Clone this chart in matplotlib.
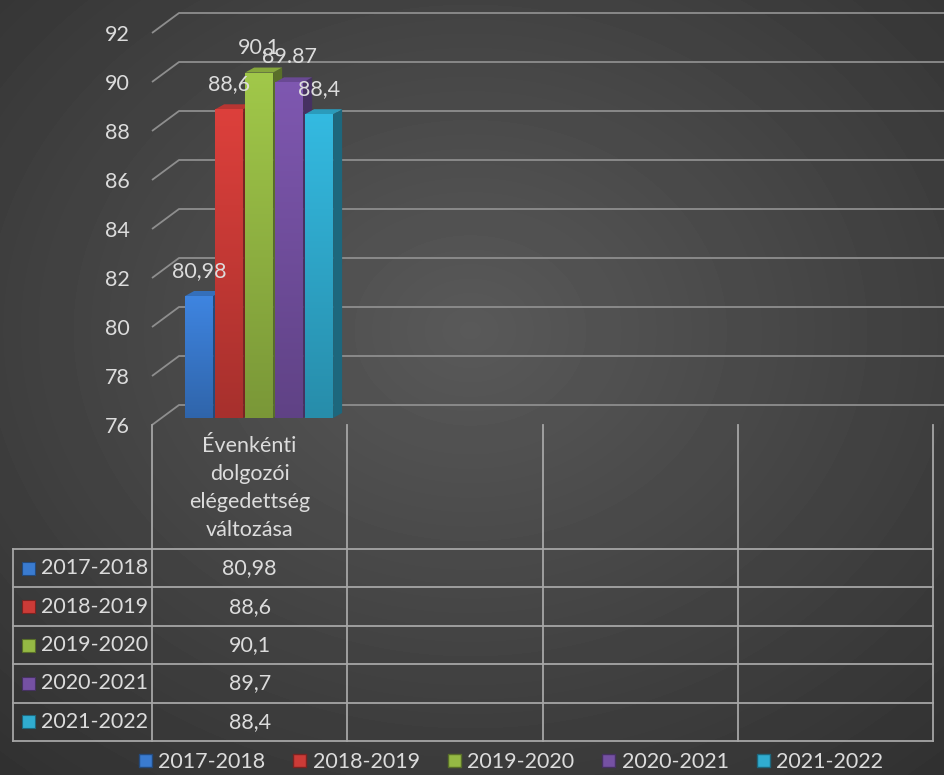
import numpy as np
import matplotlib.pyplot as plt
from matplotlib.patches import Polygon, Rectangle, Patch
from matplotlib.colors import LinearSegmentedColormap, to_rgb

plt.rcParams['font.family'] = ['Lato', 'DejaVu Sans']

# data
series = ['2017-2018', '2018-2019', '2019-2020', '2020-2021', '2021-2022']
values = [80.98, 88.6, 90.1, 89.7, 88.4]
bar_labels = ['80,98', '88,6', '90,1', '89.87', '88,4']
table_values = ['80,98', '88,6', '90,1', '89,7', '88,4']
categories = ['Évenkénti\ndolgozói\nelégedettség\nváltozása', '', '', '']
colors = ['#3a7bd0', '#cc3b37', '#95b944', '#7551a3', '#30acd0']
y_ticks = list(range(76, 93, 2))

TXT = '#dcdcdc'
GRID = '#8e8e8e'
W, H = 944, 775


def fx(px):
    return px / W


def fy(py):
    return 1 - py / H


def shade(c, f):
    r = np.array(to_rgb(c)) * f
    return tuple(np.clip(r, 0, 1))


fig = plt.figure(figsize=(W / 100, H / 100), dpi=100)

# background radial gradient
bg = fig.add_axes([0, 0, 1, 1])
bg.set_zorder(-5)
yy, xx = np.mgrid[0:H, 0:W]
d = np.hypot((xx - 470) / W, (yy - 330) / H)
bg.imshow(0.35 - 0.21 * d, cmap='gray', vmin=0, vmax=1,
          extent=[0, W, H, 0], aspect='auto')
bg.axis('off')

# main plot area (front plane of the 3D box)
left_px, right_px, bot_px, top_px = 152, 944, 425, 33
ax = fig.add_axes([fx(left_px), fy(bot_px), fx(right_px) - fx(left_px), fy(top_px) - fy(bot_px)])
sx = 195.25                       # px per category
sy = (bot_px - top_px) / 16.0     # px per unit
xmax = (right_px - left_px) / sx
ax.set_xlim(0, xmax)
ax.set_ylim(76, 92)
ax.patch.set_alpha(0)
for s in ax.spines.values():
    s.set_visible(False)
ax.set_xticks([])
ax.set_yticks(y_ticks)
ax.set_yticklabels([str(t) for t in y_ticks])
ax.tick_params(axis='y', length=0, pad=16, labelsize=15.5, labelcolor=TXT)

# side wall diagonals + back wall gridlines
bdx, bdy = 27 / sx, 20 / sy
for v in y_ticks:
    ax.plot([0, bdx, xmax], [v, v + bdy, v + bdy], color=GRID, lw=1.3,
            clip_on=False, zorder=1, solid_capstyle='butt')

# bars
width = 28 / sx
step = 30 / sx
pdx, pdy = 9.5 / sx, 7 / sy
ddx, ddy = 9 / sx, 5 / sy
base = 76 + pdy
xs = [0.5 + (i - 2) * step + pdx for i in range(len(series))]
bars = ax.bar(xs, [v - 76 for v in values], bottom=base, width=width,
              color=colors, edgecolor='none', zorder=3)
grad = np.linspace(1, 0, 64).reshape(-1, 1)
for i, (b, c) in enumerate(zip(bars, colors)):
    z = 3 + i * 0.1
    b.set_zorder(z)
    x0 = b.get_x()
    x1 = x0 + b.get_width()
    top = b.get_y() + b.get_height()
    cm = LinearSegmentedColormap.from_list('g', [shade(c, 0.82), shade(c, 1.08)])
    im = ax.imshow(grad, extent=[x0, x1, base, top], aspect='auto', cmap=cm,
                   zorder=z, interpolation='bilinear')
    im.set_clip_path(b)
    ax.add_patch(Polygon([(x1, base), (x1 + ddx, base + ddy), (x1 + ddx, top + ddy), (x1, top)],
                         closed=True, facecolor=shade(c, 0.6), edgecolor='none', zorder=z - 0.05))
    ax.add_patch(Polygon([(x0, top), (x0 + ddx, top + ddy), (x1 + ddx, top + ddy), (x1, top)],
                         closed=True, facecolor=shade(c, 0.9), edgecolor='none', zorder=z - 0.05))
    ax.annotate(bar_labels[i], (x0 + width / 2, top), xytext=(0, 18),
                textcoords='offset points', ha='center', va='center',
                color=TXT, fontsize=15.5, zorder=10)
ax.set_xlim(0, xmax)
ax.set_ylim(76, 92)

# data table below the plot
tab = fig.add_axes([0, 0, 1, 1])
tab.set_xlim(0, W)
tab.set_ylim(H, 0)
tab.axis('off')
tab.patch.set_alpha(0)
col_edges = [13] + [left_px + k * sx for k in range(5)]
row_top = 549
row_h = 38.4
row_edges = [row_top + k * row_h for k in range(len(series) + 1)]
LINE = '#a6a6a6'
for x in col_edges[1:]:
    tab.plot([x, x], [bot_px, row_edges[-1]], color=LINE, lw=1.3)
tab.plot([col_edges[0]] * 2, [row_top, row_edges[-1]], color=LINE, lw=1.3)
for y in row_edges:
    tab.plot([col_edges[0], col_edges[-1]], [y, y], color=LINE, lw=1.3)

for k, cat in enumerate(categories):
    if cat:
        cx = (col_edges[k + 1] + col_edges[k + 2]) / 2
        tab.text(cx, (bot_px + row_top) / 2 + 1, cat, ha='center', va='center',
                 color=TXT, fontsize=15.5, linespacing=1.5)

for i, name in enumerate(series):
    yc = row_edges[i] + row_h / 2
    tab.add_patch(Rectangle((22, yc - 6.5), 13, 13, facecolor=colors[i],
                            edgecolor=shade(colors[i], 0.6), lw=0.8))
    tab.text(41, yc, name, ha='left', va='center', color=TXT, fontsize=15.5)
    tab.text((col_edges[1] + col_edges[2]) / 2, yc, table_values[i],
             ha='center', va='center', color=TXT, fontsize=15.5)

# legend
handles = [Patch(facecolor=c, edgecolor=shade(c, 0.6)) for c in colors]
fig.legend(handles, series, loc='center', bbox_to_anchor=(fx(511), fy(762)),
           ncol=5, frameon=False, fontsize=15.5, handlelength=0.6, handleheight=0.6,
           handletextpad=0.3, columnspacing=1.3, labelcolor=TXT, borderpad=0)

plt.savefig('out.png', dpi=100)
plt.close()
